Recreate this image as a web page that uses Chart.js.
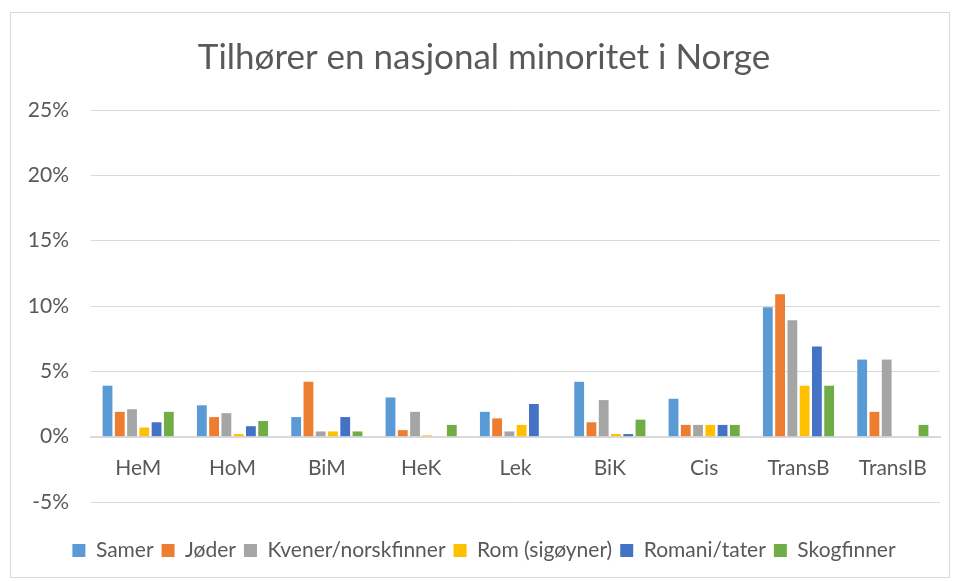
<!DOCTYPE html>
<html>
<head>
<meta charset="utf-8">
<script src="https://cdn.jsdelivr.net/npm/chart.js@4"></script>
<style>
  body { margin: 0; background: #fff; }
  #frame { position: absolute; left: 10px; top: 12px; width: 938px; height: 564px; border: 1px solid #d9d9d9; }
</style>
</head>
<body>
<div id="frame"><canvas id="myChart" width="938" height="564"></canvas></div>
<script>
const categories = ["HeM", "HoM", "BiM", "HeK", "Lek", "BiK", "Cis", "TransB", "TransIB"];
const seriesNames = ["Samer", "Jøder", "Kvener/norskfinner", "Rom (sigøyner)", "Romani/tater", "Skogfinner"];
const samer   = [3.9, 2.4, 1.5, 3.0, 1.9, 4.2, 2.9, 9.9, 5.9];
const joder   = [1.9, 1.5, 4.2, 0.5, 1.4, 1.1, 0.9, 10.9, 1.9];
const kvener  = [2.1, 1.8, 0.4, 1.9, 0.4, 2.8, 0.9, 8.9, 5.9];
const rom     = [0.7, 0.2, 0.4, 0.1, 0.9, 0.2, 0.9, 3.9, 0];
const romani  = [1.1, 0.8, 1.5, 0, 2.5, 0.2, 0.9, 6.9, 0];
const skog    = [1.9, 1.2, 0.4, 0.9, 0, 1.3, 0.9, 3.9, 0.9];
const yTicks  = [-5, 0, 5, 10, 15, 20, 25];

const colors = ['#5B9BD5', '#ED7D31', '#A5A5A5', '#FFC000', '#4472C4', '#70AD47'];
const values = [samer, joder, kvener, rom, romani, skog];
const font = "Lato, 'Open Sans', sans-serif";

const ctx = document.getElementById('myChart');
new Chart(ctx, {
  type: 'bar',
  data: {
    labels: categories,
    datasets: seriesNames.map((name, i) => ({
      label: name,
      data: values[i],
      backgroundColor: colors[i],
      barPercentage: 0.8,
      categoryPercentage: 0.78
    }))
  },
  options: {
    responsive: false,
    animation: false,
    layout: { padding: { left: 17, right: 9, top: 24, bottom: 6 } },
    plugins: {
      title: {
        display: true,
        text: "Tilhører en nasjonal minoritet i Norge",
        color: '#595959',
        font: { family: font, size: 35, weight: 'normal' },
        padding: { top: 0, bottom: 31 }
      },
      legend: {
        position: 'bottom',
        title: {
          display: true,
          text: '',
          font: { size: 10 },
          padding: 9
        },
        labels: {
          color: '#595959',
          font: { family: font, size: 21 },
          boxWidth: 13,
          boxHeight: 13,
          padding: 8
        }
      },
      tooltip: { enabled: false }
    },
    scales: {
      y: {
        min: -5,
        max: 25,
        afterBuildTicks: axis => { axis.ticks = yTicks.map(v => ({ value: v })); },
        afterFit: axis => { axis.width = 63; },
        ticks: {
          color: '#595959',
          font: { family: font, size: 21 },
          padding: 22,
          callback: v => v + '%'
        },
        grid: { color: '#d9d9d9', drawTicks: false },
        border: { display: false }
      },
      x: {
        position: { y: 0 },
        ticks: {
          color: '#595959',
          font: { family: font, size: 21 },
          padding: 19
        },
        grid: { display: false, drawTicks: false },
        border: { color: '#d9d9d9', width: 2 }
      }
    }
  }
});
</script>
</body>
</html>
